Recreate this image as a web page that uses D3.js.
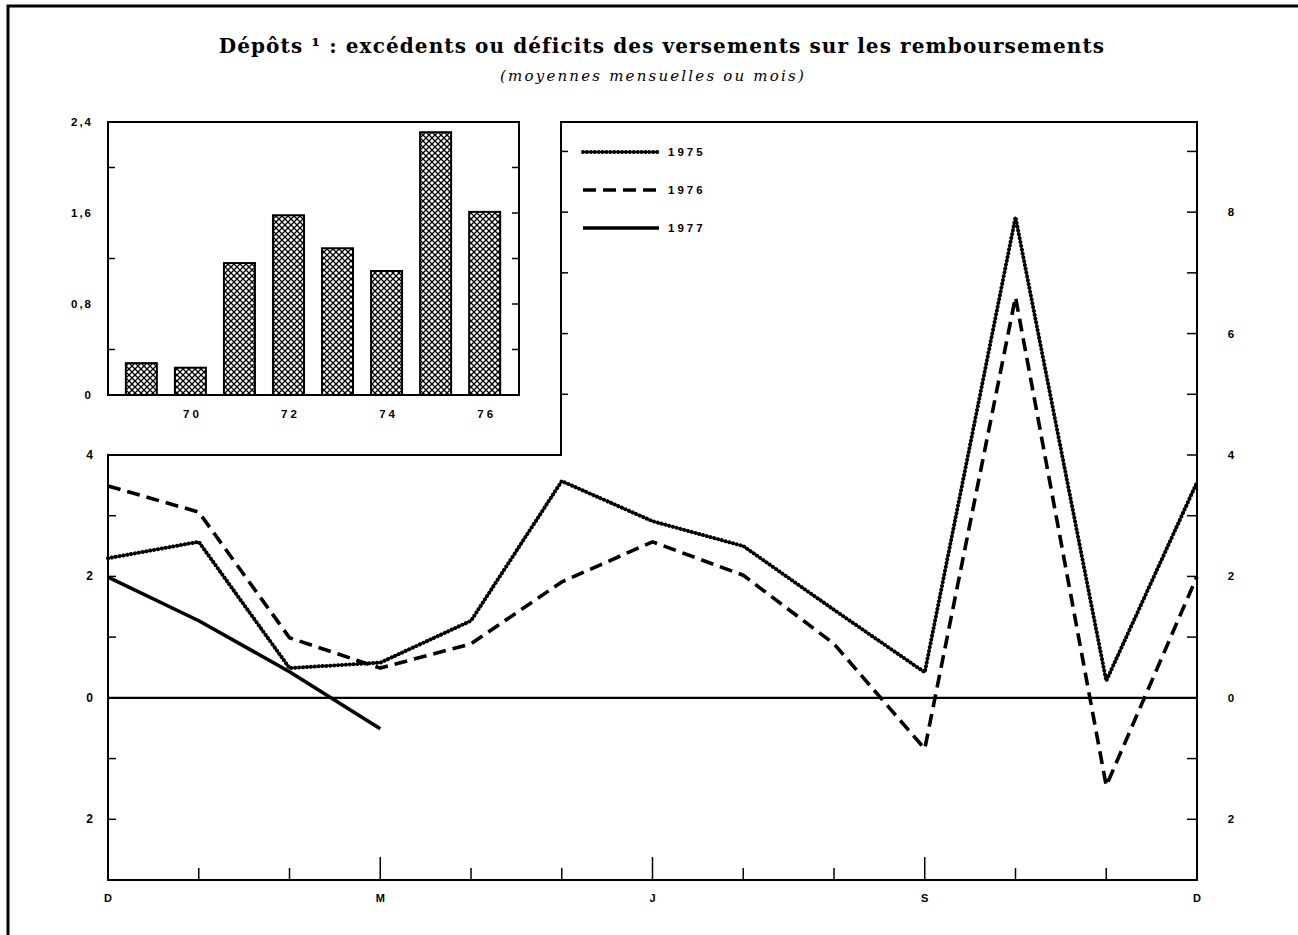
<!DOCTYPE html>
<html>
<head>
<meta charset="utf-8">
<script src="https://cdn.jsdelivr.net/npm/d3@7"></script>
<style>
  html, body { margin: 0; padding: 0; background: #fff; }
  svg { display: block; }
  .tick-label { font-family: "Liberation Sans", Arial, sans-serif; font-weight: bold; font-size: 11.5px; fill: #000; }
</style>
</head>
<body>
<script>
// ---- Data ----
const months = ["D","J","F","M","A","M","J","J","A","S","O","N","D"];
const monthLabelIdx = [0, 3, 6, 9, 12];
const series1975 = [2.3, 2.57, 0.49, 0.58, 1.27, 3.57, 2.91, 2.5, 1.45, 0.42, 7.92, 0.28, 3.55];
const series1976 = [3.49, 3.06, 0.99, 0.49, 0.89, 1.91, 2.57, 2.02, 0.89, -0.84, 6.6, -1.45, 2.0];
const series1977 = [1.99, 1.27, 0.43, -0.51];
const seriesNames = ["1975", "1976", "1977"];
const leftTickVals = [4, 2, 0, -2];
const rightTickVals = [8, 6, 4, 2, 0, -2];
const insetYears = [69, 70, 71, 72, 73, 74, 75, 76];
const insetValues = [0.28, 0.24, 1.16, 1.58, 1.29, 1.09, 2.31, 1.61];
const insetXLabels = [70, 72, 74, 76];
const insetYLabels = [0, 0.8, 1.6, 2.4];
const title = "Dépôts ¹ : excédents ou déficits des versements sur les remboursements";
const subtitle = "(moyennes mensuelles ou mois)";

// ---- Layout ----
const W = 1298, H = 935;
const svg = d3.select("body").append("svg").attr("width", W).attr("height", H);

const L = 108, R = 1197, B = 880, T4 = 455, TOP = 122, MID = 561;
const x = d3.scaleLinear().domain([0, 12]).range([L, R]);
const y = d3.scaleLinear().domain([-3, 4]).range([B, T4]);

// outer border (left & top)
svg.append("path").attr("d", `M8,${H} L8,6 L${W},6`).attr("fill", "none").attr("stroke", "#000").attr("stroke-width", 3);

// Title
svg.append("text").attr("x", 662).attr("y", 53).attr("text-anchor", "middle")
  .style("font-family", "'DejaVu Serif', serif").style("font-weight", "bold").style("font-size", "20px")
  .style("letter-spacing", "1.1px")
  .text(title);
svg.append("text").attr("x", 653).attr("y", 81).attr("text-anchor", "middle")
  .style("font-family", "'DejaVu Serif', serif").style("font-style", "italic").style("font-size", "15px")
  .style("letter-spacing", "2.2px")
  .text(subtitle);

// ---- Main frame ----
const frame = svg.append("g").attr("fill", "none").attr("stroke", "#000").attr("stroke-width", 2);
frame.append("path").attr("d", `M${L},${T4} L${MID},${T4} L${MID},${TOP} L${R},${TOP} L${R},${B} L${L},${B} Z`);

// zero line
frame.append("line").attr("x1", L).attr("x2", R).attr("y1", y(0)).attr("y2", y(0)).attr("stroke-width", 2.4);

// left ticks (inward)
const leftMinor = d3.range(-3, 5);
svg.append("g").selectAll("line").data(leftMinor).join("line")
  .attr("x1", L).attr("x2", L + 8).attr("y1", d => y(d)).attr("y2", d => y(d))
  .attr("stroke", "#000").attr("stroke-width", 1.5);
// right ticks (inward)
const rightMinor = d3.range(-2, 10);
svg.append("g").selectAll("line").data(rightMinor).join("line")
  .attr("x1", R).attr("x2", R - 10).attr("y1", d => y(d)).attr("y2", d => y(d))
  .attr("stroke", "#000").attr("stroke-width", 1.5);
// mid vertical ticks
svg.append("g").selectAll("line").data([5, 6, 7, 8, 9]).join("line")
  .attr("x1", MID).attr("x2", MID + 7).attr("y1", d => y(d)).attr("y2", d => y(d))
  .attr("stroke", "#000").attr("stroke-width", 1.5);
// bottom ticks
svg.append("g").selectAll("line").data(d3.range(1, 12)).join("line")
  .attr("x1", d => x(d)).attr("x2", d => x(d))
  .attr("y1", B).attr("y2", d => B - (d % 3 === 0 ? 23 : 12))
  .attr("stroke", "#000").attr("stroke-width", 1.5);

// labels
svg.append("g").selectAll("text").data(leftTickVals).join("text")
  .attr("class", "tick-label").attr("x", 93).attr("y", d => y(d) + 4).attr("text-anchor", "end")
  .style("font-size", "12px")
  .text(d => Math.abs(d));
svg.append("g").selectAll("text").data(rightTickVals).join("text")
  .attr("class", "tick-label").attr("x", 1231).attr("y", d => y(d) + 4).attr("text-anchor", "middle")
  .text(d => Math.abs(d));
svg.append("g").selectAll("text").data(monthLabelIdx).join("text")
  .attr("class", "tick-label").attr("x", d => x(d)).attr("y", 902).attr("text-anchor", "middle")
  .style("font-size", "11px")
  .text(d => months[d]);

// ---- Lines ----
const line = d3.line().x((d, i) => x(i)).y(d => y(d));
const lg = svg.append("g").attr("fill", "none").attr("stroke", "#000").attr("stroke-linejoin", "round");
// 1975 beaded
lg.append("path").attr("d", line(series1975)).attr("stroke-width", 1.2);
lg.append("path").attr("d", line(series1975)).attr("stroke-width", 4)
  .attr("stroke-dasharray", "0.1,3.8").attr("stroke-linecap", "round");
// 1976 dashed
lg.append("path").attr("d", line(series1976)).attr("stroke-width", 3.6)
  .attr("stroke-dasharray", "13,7");
// 1977 solid
lg.append("path").attr("d", line(series1977)).attr("stroke-width", 3.6);

// ---- Legend ----
const legY = [152, 190, 228];
const leg = svg.append("g");
seriesNames.forEach((name, i) => {
  const yy = legY[i];
  if (i === 0) {
    leg.append("line").attr("x1", 583).attr("x2", 659).attr("y1", yy).attr("y2", yy).attr("stroke", "#000").attr("stroke-width", 1.2);
    leg.append("line").attr("x1", 583).attr("x2", 659).attr("y1", yy).attr("y2", yy).attr("stroke", "#000").attr("stroke-width", 4)
      .attr("stroke-dasharray", "0.1,3.8").attr("stroke-linecap", "round");
  } else if (i === 1) {
    leg.append("line").attr("x1", 583).attr("x2", 659).attr("y1", yy).attr("y2", yy).attr("stroke", "#000").attr("stroke-width", 3.6)
      .attr("stroke-dasharray", "13,7");
  } else {
    leg.append("line").attr("x1", 583).attr("x2", 659).attr("y1", yy).attr("y2", yy).attr("stroke", "#000").attr("stroke-width", 3.6);
  }
  leg.append("text").attr("class", "tick-label").attr("x", 668).attr("y", yy + 4)
    .style("letter-spacing", "3px").text(name);
});

// ---- Inset ----
const iL = 108, iR = 519, iT = 122, iB = 395;
const ix = d3.scaleLinear().domain([68.32, 76.7]).range([iL, iR]);
const iy = d3.scaleLinear().domain([0, 2.4]).range([iB, iT]);
const defs = svg.append("defs");
const ps = 6;
const pat = defs.append("pattern").attr("id", "hatch").attr("patternUnits", "userSpaceOnUse")
  .attr("width", ps).attr("height", ps);
pat.append("rect").attr("width", ps).attr("height", ps).attr("fill", "#fff");
pat.append("path").attr("d", `M0,0 L${ps},${ps} M0,${ps} L${ps},0`).attr("stroke", "#000").attr("stroke-width", 1.3);

svg.append("rect").attr("x", iL).attr("y", iT).attr("width", iR - iL).attr("height", iB - iT)
  .attr("fill", "#fff").attr("stroke", "#000").attr("stroke-width", 2);
const bw = 31;
svg.append("g").selectAll("rect").data(insetYears).join("rect")
  .attr("x", d => ix(d) - bw / 2).attr("width", bw)
  .attr("y", (d, i) => iy(insetValues[i])).attr("height", (d, i) => iy(0) - iy(insetValues[i]))
  .attr("fill", "url(#hatch)").attr("stroke", "#000").attr("stroke-width", 2);
// inset ticks
svg.append("g").selectAll("line").data([0.4, 1.2, 2.0]).join("line")
  .attr("x1", iL).attr("x2", iL + 7).attr("y1", d => iy(d)).attr("y2", d => iy(d))
  .attr("stroke", "#000").attr("stroke-width", 1.5);
svg.append("g").selectAll("line").data([0.4, 0.8, 1.2, 1.6, 2.0]).join("line")
  .attr("x1", iR).attr("x2", iR - 7).attr("y1", d => iy(d)).attr("y2", d => iy(d))
  .attr("stroke", "#000").attr("stroke-width", 1.5);
svg.append("g").selectAll("text").data(insetYLabels).join("text")
  .attr("class", "tick-label").attr("x", 93).attr("y", d => iy(d) + 4).attr("text-anchor", "end")
  .style("letter-spacing", "2px")
  .text(d => d === 0 ? "0" : d3.format(".1f")(d).replace(".", ","));
svg.append("g").selectAll("text").data(insetXLabels).join("text")
  .attr("class", "tick-label").attr("x", d => ix(d) + 2).attr("y", 418).attr("text-anchor", "middle")
  .style("letter-spacing", "3px")
  .text(d => d);
</script>
</body>
</html>
